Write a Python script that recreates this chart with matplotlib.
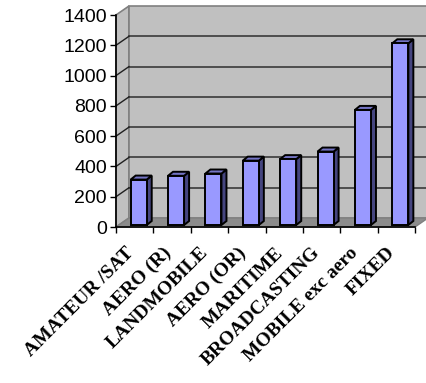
import matplotlib
matplotlib.use("Agg")
import matplotlib.pyplot as plt
from matplotlib.patches import Polygon
from matplotlib.transforms import ScaledTranslation

categories = ["AMATEUR /SAT", "AERO (R)", "LANDMOBILE", "AERO (OR)",
              "MARITIME", "BROADCASTING", "MOBILE exc aero", "FIXED"]
values = [300, 325, 340, 425, 435, 485, 760, 1200]
yticks = [0, 200, 400, 600, 800, 1000, 1200, 1400]

W, H, DPI = 427, 383, 100
fig = plt.figure(figsize=(W / DPI, H / DPI), dpi=DPI)
L, R, T, B = 116, 415, 15, 227
ax = fig.add_axes([L / W, (H - B) / H, (R - L) / W, (B - T) / H])
n = len(categories)
ymax = 1400
ax.set_xlim(0, n)
ax.set_ylim(0, ymax)

# pixel -> data conversions
pxx = n / (R - L)
pxy = ymax / (B - T)

def P(x, y, ox=0, oy=0):
    return (x + ox * pxx, y + oy * pxy)

DX, DY = 13, 9  # depth of walls in px
wall_c = "#C0C0C0"
edge_c = "#808080"
# left side wall
ax.add_patch(Polygon([P(0, 0), P(0, ymax), P(0, ymax, DX, DY), P(0, 0, DX, DY)],
                     closed=True, fc=wall_c, ec=edge_c, lw=1.2, clip_on=False, zorder=0))
# back wall
ax.add_patch(Polygon([P(0, 0, DX, DY), P(0, ymax, DX, DY), P(n, ymax, DX, DY), P(n, 0, DX, DY)],
                     closed=True, fc=wall_c, ec=edge_c, lw=1.2, clip_on=False, zorder=0))
# floor
ax.add_patch(Polygon([P(0, 0), P(n, 0), P(n, 0, DX, DY), P(0, 0, DX, DY)],
                     closed=True, fc="#8C8C8C", ec=edge_c, lw=1, clip_on=False, zorder=0.5))

# gridlines
for v in yticks[1:-1]:
    x0, y0 = P(0, v, DX, DY)
    x1, y1 = P(n, v, DX, DY)
    ax.plot([x0, x1], [y0, y1], color="#3A3A3A", lw=1.2, clip_on=False, zorder=1)
    xa, ya = P(0, v)
    ax.plot([xa, x0], [ya, y0], color="#202020", lw=1, clip_on=False, zorder=1)

# bars
bw = 0.43
FX, FY = 4, 2   # front face offset
BDX, BDY = 5, 4  # bar depth
front_c = "#9999FF"
side_c = "#45457F"
top_c = "#7474C4"
for i, v in enumerate(values):
    xc = i + 0.5
    xl, xr = xc - bw / 2, xc + bw / 2
    front = [P(xl, 0, FX, FY), P(xl, v, FX, FY), P(xr, v, FX, FY), P(xr, 0, FX, FY)]
    side = [P(xr, 0, FX, FY), P(xr, v, FX, FY), P(xr, v, FX + BDX, FY + BDY), P(xr, 0, FX + BDX, FY + BDY)]
    top = [P(xl, v, FX, FY), P(xl, v, FX + BDX, FY + BDY), P(xr, v, FX + BDX, FY + BDY), P(xr, v, FX, FY)]
    for poly, c in ((side, side_c), (top, top_c), (front, front_c)):
        ax.add_patch(Polygon(poly, closed=True, fc=c, ec="black", lw=1.4,
                             joinstyle="miter", clip_on=False, zorder=3))

for s in ("top", "right"):
    ax.spines[s].set_visible(False)
for s in ("left", "bottom"):
    ax.spines[s].set_color("black")
    ax.spines[s].set_linewidth(1.2)
    ax.spines[s].set_zorder(4)
ax.patch.set_visible(False)

ax.set_yticks(yticks)
ax.set_yticklabels([str(v) for v in yticks], family="Liberation Sans", fontsize=14)
ax.tick_params(axis="y", direction="out", length=4.5, width=1, pad=2)

ax.set_xticks(range(n + 1))
ax.set_xticklabels([])
ax.tick_params(axis="x", which="major", direction="out", length=4.5, width=1)
ax.set_xticks([i + 0.5 for i in range(n)], minor=True)
ax.set_xticklabels(categories, minor=True, rotation=45, ha="right",
                   rotation_mode="anchor", family="Liberation Serif",
                   fontweight="bold", fontsize=14)
ax.tick_params(axis="x", which="minor", length=0, pad=6)
shift = ScaledTranslation(-10 / DPI, -9 / DPI, fig.dpi_scale_trans)
for lab in ax.get_xticklabels(minor=True):
    lab.set_transform(lab.get_transform() + shift)

fig.savefig("out.png", dpi=DPI)
